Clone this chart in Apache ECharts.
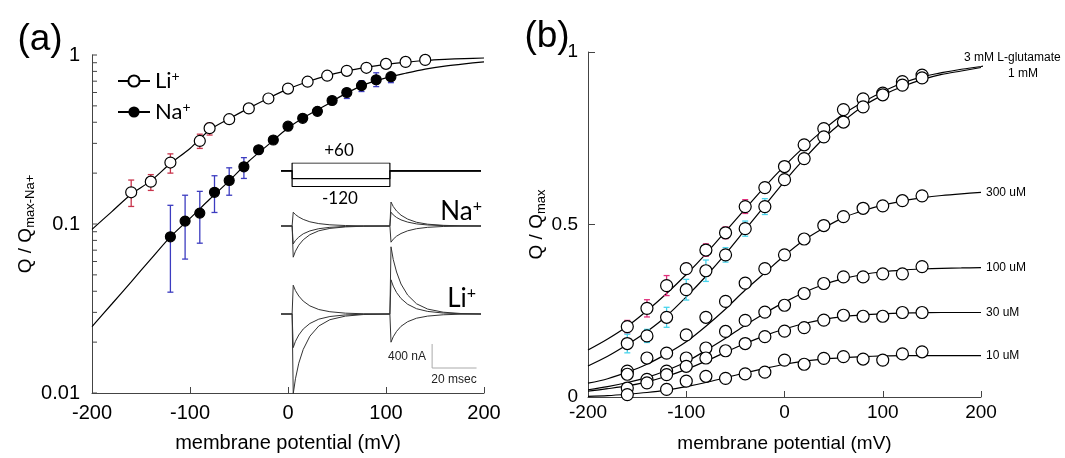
<!DOCTYPE html>
<html>
<head>
<meta charset="utf-8">
<script src="https://cdn.jsdelivr.net/npm/echarts@6/dist/echarts.min.js"></script>
<style>
html, body { margin: 0; padding: 0; background: #fff; }
#chart { width: 1065px; height: 458px; }
</style>
</head>
<body>
<div id="chart"></div>
<script>
// ---- panel (a): Li+ / Na+ charge-voltage, log scale ----
var aLiVoltage = [-160, -140, -120, -90, -80, -60, -40, -20, 0, 20, 40, 60, 80, 100, 120, 140];
var aLiCharge = [0.154, 0.178, 0.231, 0.310, 0.369, 0.417, 0.483, 0.553, 0.633, 0.695, 0.754, 0.806, 0.840, 0.886, 0.910, 0.935];
var aLiErrLow = [0.127, 0.158, 0.200, 0.280, 0.336, 0.405, 0.475, null, null, null, null, null, null, null, null, null];
var aLiErrHigh = [0.182, 0.196, 0.260, 0.340, 0.395, 0.430, 0.490, null, null, null, null, null, null, null, null, null];

var aNaVoltage = [-120, -105, -90, -75, -60, -45, -30, -15, 0, 15, 30, 45, 60, 75, 90, 105];
var aNaCharge = [0.084, 0.104, 0.116, 0.154, 0.181, 0.218, 0.275, 0.314, 0.379, 0.422, 0.464, 0.538, 0.600, 0.659, 0.714, 0.744];
var aNaErrLow = [0.0395, 0.062, 0.077, 0.117, 0.148, 0.186, 0.260, null, null, null, null, 0.510, 0.553, 0.608, 0.650, 0.686];
var aNaErrHigh = [0.129, 0.148, 0.156, 0.193, 0.215, 0.247, 0.286, null, null, null, null, 0.566, 0.633, 0.705, 0.785, 0.774];

var fitVoltage = [-200, -180, -160, -140, -120, -100, -80, -60, -40, -20, 0, 20, 40, 60, 80, 100, 120, 140, 160, 180, 200];
var aLiFit = [0.093, 0.118, 0.150, 0.180, 0.228, 0.280, 0.360, 0.420, 0.485, 0.555, 0.630, 0.695, 0.755, 0.805, 0.845, 0.880, 0.905, 0.928, 0.943, 0.953, 0.960];
var aNaFit = [0.0247, 0.0335, 0.0455, 0.062, 0.084, 0.108, 0.140, 0.180, 0.235, 0.295, 0.370, 0.440, 0.510, 0.597, 0.675, 0.733, 0.780, 0.825, 0.860, 0.887, 0.910];

var aLogMajorTicks = [0.01, 0.1, 1];
var aLogMinorTicks = [0.02, 0.03, 0.04, 0.05, 0.06, 0.07, 0.08, 0.09, 0.2, 0.3, 0.4, 0.5, 0.6, 0.7, 0.8, 0.9];

// inset: voltage protocol and current traces (time in ms, current in nA)
var protocolTime = [-5, 0, 0, 44, 44, 85];
var protocolPlus60 = [0, 0, 60, 60, 0, 0];
var protocolMinus60 = [0, 0, -60, -60, 0, 0];
var protocolMinus120 = [0, 0, -120, -120, 0, 0];

var traceTime = [-5, 0, 0.5, 1.5, 3, 5, 8, 12, 17, 24, 32, 44, 44.5, 45.5, 47, 49, 52, 56, 61, 68, 76, 85];
var naTraceUp = [0, 0, 230, 190, 150, 110, 70, 40, 20, 8, 2, 0, -270, -220, -170, -125, -80, -45, -22, -8, -2, 0];
var naTraceDown = [0, 0, -520, -420, -320, -230, -145, -80, -40, -15, -4, 0, 400, 325, 250, 180, 115, 62, 30, 11, 3, 0];
var naTraceMid = [0, 0, -300, -240, -185, -130, -82, -45, -22, -8, -2, 0, 230, 185, 142, 102, 65, 35, 17, 6, 1, 0];
var liTraceUp = [0, 0, 480, 390, 300, 215, 135, 75, 38, 14, 4, 0, -470, -380, -290, -205, -128, -70, -35, -13, -3, 0];
var liTraceDown = [0, 0, -1330, -1080, -820, -590, -370, -200, -95, -35, -9, 0, 1120, 910, 700, 500, 315, 170, 82, 30, 8, 0];
var liTraceMid = [0, 0, -560, -455, -350, -250, -158, -86, -42, -15, -4, 0, 570, 465, 358, 258, 162, 88, 43, 16, 4, 0];

var scaleBarTime = [63, 63, 83];
var scaleBarCurrent = [-500, -900, -900];

// ---- panel (b): glutamate dependence, linear scale ----
var bVoltage = [-160, -140, -120, -100, -80, -60, -40, -20, 0, 20, 40, 60, 80, 100, 120, 140];
var b3mM = [0.204, 0.257, 0.323, 0.372, 0.426, 0.476, 0.552, 0.607, 0.668, 0.731, 0.778, 0.833, 0.864, 0.881, 0.914, 0.933];
var b3mMErr = [0.018, 0.025, 0.029, 0.015, 0.018, 0.017, 0.020, 0.012, 0.006, 0.006, 0.006, 0.006, 0.006, 0.008, 0.008, 0.005];
var b1mM = [0.155, 0.177, 0.231, 0.311, 0.366, 0.412, 0.488, 0.552, 0.630, 0.691, 0.754, 0.797, 0.841, 0.876, 0.904, 0.925];
var b1mMErr = [0.027, 0.019, 0.029, 0.030, 0.031, 0.021, 0.022, 0.023, 0.010, 0.008, 0.014, 0.006, 0.005, 0.005, 0.005, 0.005];
var b300uM = [0.075, 0.113, 0.127, 0.180, 0.231, 0.277, 0.330, 0.372, 0.412, 0.458, 0.497, 0.523, 0.547, 0.554, 0.569, 0.583];
var b100uM = [0.066, 0.051, 0.075, 0.113, 0.142, 0.190, 0.222, 0.246, 0.266, 0.300, 0.329, 0.348, 0.348, 0.357, 0.357, 0.378];
var b30uM = [0.026, 0.041, 0.065, 0.089, 0.113, 0.134, 0.155, 0.175, 0.191, 0.201, 0.223, 0.237, 0.234, 0.234, 0.245, 0.245];
var b10uM = [0.007, null, 0.022, 0.046, 0.060, 0.054, 0.067, 0.072, 0.107, 0.095, 0.112, 0.117, 0.110, 0.107, 0.125, 0.131];

var fit3mMVoltage = [-200, -180, -160, -140, -120, -100, -80, -60, -40, -20, 0, 20, 40, 60, 80, 100, 120, 140, 160, 180, 200, 222];
var fit3mM = [0.136, 0.168, 0.205, 0.250, 0.300, 0.355, 0.415, 0.480, 0.545, 0.610, 0.670, 0.725, 0.775, 0.820, 0.855, 0.885, 0.910, 0.928, 0.940, 0.950, 0.958, 0.968];
var fit1mM = [0.090, 0.118, 0.152, 0.190, 0.235, 0.290, 0.350, 0.415, 0.485, 0.555, 0.625, 0.690, 0.750, 0.800, 0.843, 0.875, 0.900, 0.920, 0.935, 0.945, 0.955];
var fit300uM = [0.040, 0.053, 0.072, 0.095, 0.125, 0.160, 0.205, 0.255, 0.310, 0.360, 0.410, 0.455, 0.490, 0.520, 0.540, 0.556, 0.568, 0.577, 0.584, 0.589, 0.593];
var fit100uM = [0.021, 0.030, 0.042, 0.057, 0.077, 0.102, 0.135, 0.170, 0.208, 0.243, 0.275, 0.303, 0.326, 0.343, 0.355, 0.363, 0.368, 0.371, 0.373, 0.374, 0.375];
var fit30uM = [0.017, 0.024, 0.032, 0.044, 0.060, 0.080, 0.104, 0.130, 0.155, 0.178, 0.197, 0.213, 0.225, 0.233, 0.238, 0.241, 0.243, 0.244, 0.245, 0.245, 0.245];
var fit10uM = [0.002, 0.004, 0.008, 0.013, 0.020, 0.030, 0.042, 0.056, 0.070, 0.083, 0.095, 0.104, 0.110, 0.114, 0.117, 0.119, 0.120, 0.120, 0.120, 0.120, 0.120];

var FONT = "'Liberation Sans', Arial, sans-serif";
var INSET_FONT = "Lato, 'Open Sans', sans-serif";
var AXIS_COLOR = '#444';

/**
 * Charge-voltage figure
 */
var qvPlot = {

    chart: undefined,

    init: function() {
        qvPlot.chart = echarts.init(document.getElementById('chart'), null, {renderer: 'canvas'});
        qvPlot.chart.setOption(qvPlot.getOption());
    },

    /**
     * zip x and y arrays into [x, y] rows, skipping missing values
     */
    pairs: function(xs, ys) {
        var rows = [];
        for (var i = 0; i < xs.length; i++) {
            if (ys[i] != null) rows.push([xs[i], ys[i]]);
        }
        return rows;
    },

    /**
     * rows [x, low, high] for an error bar series
     */
    errRows: function(xs, lo, hi) {
        var rows = [];
        for (var i = 0; i < xs.length; i++) {
            if (lo[i] != null && hi[i] != null) rows.push([xs[i], lo[i], hi[i]]);
        }
        return rows;
    },

    symErrRows: function(xs, ys, err) {
        var rows = [];
        for (var i = 0; i < xs.length; i++) {
            if (ys[i] != null && err[i] != null) rows.push([xs[i], ys[i] - err[i], ys[i] + err[i]]);
        }
        return rows;
    },

    errorBars: function(rows, color, xIdx, yIdx) {
        return {
            type: 'custom',
            xAxisIndex: xIdx,
            yAxisIndex: yIdx,
            z: 2,
            silent: true,
            encode: {x: 0, y: [1, 2]},
            data: rows,
            renderItem: function(params, api) {
                var lo = api.coord([api.value(0), api.value(1)]);
                var hi = api.coord([api.value(0), api.value(2)]);
                var st = {stroke: color, lineWidth: 1.3};
                return {
                    type: 'group',
                    children: [
                        {type: 'line', shape: {x1: lo[0], y1: lo[1], x2: hi[0], y2: hi[1]}, style: st},
                        {type: 'line', shape: {x1: lo[0] - 3, y1: lo[1], x2: lo[0] + 3, y2: lo[1]}, style: st},
                        {type: 'line', shape: {x1: hi[0] - 3, y1: hi[1], x2: hi[0] + 3, y2: hi[1]}, style: st}
                    ]
                };
            }
        };
    },

    /**
     * inside tick marks of the log axis (decades and 2..9), placed by the log scale itself
     */
    logTickMarks: function() {
        var rows = aLogMajorTicks.concat(aLogMinorTicks).map(function(v) { return [-200, v]; });
        return {
            type: 'custom',
            xAxisIndex: 0,
            yAxisIndex: 0,
            z: 4,
            silent: true,
            clip: false,
            data: rows,
            renderItem: function(params, api) {
                var p = api.coord([api.value(0), api.value(1)]);
                return {
                    type: 'line',
                    shape: {x1: p[0], y1: p[1], x2: p[0] + 5, y2: p[1]},
                    style: {stroke: AXIS_COLOR, lineWidth: 1}
                };
            }
        };
    },

    fitLine: function(name, rows, xIdx, yIdx, extra) {
        var s = {
            name: name,
            type: 'line',
            xAxisIndex: xIdx,
            yAxisIndex: yIdx,
            data: rows,
            smooth: 0.3,
            showSymbol: false,
            symbol: 'none',
            z: 1,
            silent: true,
            lineStyle: {color: '#000', width: 1.2},
            itemStyle: {color: '#000'}
        };
        return echarts.util.merge(s, extra || {}, true);
    },

    markers: function(rows, xIdx, yIdx, filled, size) {
        return {
            type: 'scatter',
            xAxisIndex: xIdx,
            yAxisIndex: yIdx,
            data: rows,
            symbol: 'circle',
            symbolSize: size,
            z: 3,
            silent: true,
            itemStyle: {color: filled ? '#000' : '#fff', borderColor: '#000', borderWidth: 1.2, opacity: 1}
        };
    },

    trace: function(values, xIdx, yIdx) {
        return {
            type: 'line',
            xAxisIndex: xIdx,
            yAxisIndex: yIdx,
            data: qvPlot.pairs(traceTime, values),
            showSymbol: false,
            symbol: 'none',
            silent: true,
            lineStyle: {color: '#333', width: 1}
        };
    },

    valueAxis: function(grid, min, max, interval, fontSize, margin) {
        return {
            gridIndex: grid,
            type: 'value',
            min: min,
            max: max,
            interval: interval,
            axisLine: {show: true, onZero: false, lineStyle: {color: AXIS_COLOR, width: 1}},
            axisTick: {show: true, inside: true, length: 6, lineStyle: {color: AXIS_COLOR}},
            splitLine: {show: false},
            axisLabel: {fontSize: fontSize, color: '#000', margin: margin, fontFamily: FONT}
        };
    },

    hiddenAxis: function(grid, min, max) {
        return {gridIndex: grid, type: 'value', min: min, max: max, show: false};
    },

    getOption: function() {
        var xA = qvPlot.valueAxis(0, -200, 200, 100, 20, 10);
        xA.name = 'membrane potential (mV)';
        xA.nameLocation = 'middle';
        xA.nameGap = 40;
        xA.nameTextStyle = {fontSize: 20, color: '#000', fontFamily: FONT};

        var xB = qvPlot.valueAxis(1, -200, 200, 100, 19, 6);
        xB.name = 'membrane potential (mV)';
        xB.nameLocation = 'middle';
        xB.nameGap = 37;
        xB.nameTextStyle = {fontSize: 19, color: '#000', fontFamily: FONT};

        var subRich = {
            m: {fontSize: 19, fontFamily: FONT, color: '#000'},
            s: {fontSize: 13, fontFamily: FONT, color: '#000', padding: [9, 0, 0, 0]}
        };

        var yA = {
            gridIndex: 0,
            type: 'log',
            logBase: 10,
            min: 0.01,
            max: 1,
            position: 'left',
            axisLine: {show: true, onZero: false, lineStyle: {color: AXIS_COLOR, width: 1}},
            axisTick: {show: false},
            axisLabel: {fontSize: 20, color: '#000', margin: 12, fontFamily: FONT,
                formatter: function(v) { return String(v); }},
            splitLine: {show: false},
            name: '{m|Q / Q}{s|max-Na+}',
            nameLocation: 'middle',
            nameRotate: 90,
            nameGap: 50,
            nameTextStyle: {rich: subRich}
        };

        var yB = qvPlot.valueAxis(1, 0, 1, 0.5, 19, 10);
        yB.axisTick.length = 7;
        yB.axisLabel.formatter = function(v) { return String(v); };
        yB.name = '{m|Q / Q}{s|max}';
        yB.nameLocation = 'middle';
        yB.nameRotate = 90;
        yB.nameGap = 38;
        yB.nameTextStyle = {rich: subRich};

        var endLabel = function(text, offset) {
            return {
                endLabel: {
                    show: true,
                    formatter: text,
                    distance: 5,
                    offset: offset,
                    color: '#000',
                    fontSize: 12,
                    fontFamily: FONT
                },
                clip: false
            };
        };

        var series = [
            // panel (a)
            qvPlot.logTickMarks(),
            qvPlot.fitLine('Li+', qvPlot.pairs(fitVoltage, aLiFit), 0, 0, {symbol: 'emptyCircle'}),
            qvPlot.fitLine('Na+', qvPlot.pairs(fitVoltage, aNaFit), 0, 0, {symbol: 'circle'}),
            qvPlot.errorBars(qvPlot.errRows(aLiVoltage, aLiErrLow, aLiErrHigh), '#c8344c', 0, 0),
            qvPlot.errorBars(qvPlot.errRows(aNaVoltage, aNaErrLow, aNaErrHigh), '#3c3cc0', 0, 0),
            qvPlot.markers(qvPlot.pairs(aLiVoltage, aLiCharge), 0, 0, false, 11),
            qvPlot.markers(qvPlot.pairs(aNaVoltage, aNaCharge), 0, 0, true, 10),

            // panel (b)
            qvPlot.fitLine('3 mM', qvPlot.pairs(fit3mMVoltage, fit3mM), 1, 1, endLabel('3 mM L-glutamate', [-24, -8])),
            qvPlot.fitLine('1 mM', qvPlot.pairs(fitVoltage, fit1mM), 1, 1, endLabel('1 mM', [22, 6])),
            qvPlot.fitLine('300 uM', qvPlot.pairs(fitVoltage, fit300uM), 1, 1, endLabel('300 uM', [0, 0])),
            qvPlot.fitLine('100 uM', qvPlot.pairs(fitVoltage, fit100uM), 1, 1, endLabel('100 uM', [0, 0])),
            qvPlot.fitLine('30 uM', qvPlot.pairs(fitVoltage, fit30uM), 1, 1, endLabel('30 uM', [0, 0])),
            qvPlot.fitLine('10 uM', qvPlot.pairs(fitVoltage, fit10uM), 1, 1, endLabel('10 uM', [0, 0])),
            qvPlot.errorBars(qvPlot.symErrRows(bVoltage, b3mM, b3mMErr), '#e0307c', 1, 1),
            qvPlot.errorBars(qvPlot.symErrRows(bVoltage, b1mM, b1mMErr), '#48d4ec', 1, 1),
            qvPlot.markers(qvPlot.pairs(bVoltage, b3mM), 1, 1, false, 12),
            qvPlot.markers(qvPlot.pairs(bVoltage, b1mM), 1, 1, false, 12),
            qvPlot.markers(qvPlot.pairs(bVoltage, b300uM), 1, 1, false, 12),
            qvPlot.markers(qvPlot.pairs(bVoltage, b100uM), 1, 1, false, 12),
            qvPlot.markers(qvPlot.pairs(bVoltage, b30uM), 1, 1, false, 12),
            qvPlot.markers(qvPlot.pairs(bVoltage, b10uM), 1, 1, false, 12)
        ];

        // inset: protocol
        [protocolPlus60, protocolMinus60, protocolMinus120].forEach(function(levels) {
            series.push({
                type: 'line', xAxisIndex: 2, yAxisIndex: 2, silent: true,
                data: qvPlot.pairs(protocolTime, levels),
                showSymbol: false, symbol: 'none',
                lineStyle: {color: '#000', width: 1.2}
            });
        });
        // inset: traces
        [naTraceUp, naTraceMid, naTraceDown].forEach(function(v) { series.push(qvPlot.trace(v, 3, 3)); });
        [liTraceUp, liTraceMid, liTraceDown].forEach(function(v) { series.push(qvPlot.trace(v, 4, 4)); });
        series.push({
            type: 'line', xAxisIndex: 4, yAxisIndex: 4, silent: true,
            data: qvPlot.pairs(scaleBarTime, scaleBarCurrent),
            showSymbol: false, symbol: 'none',
            lineStyle: {color: '#aaa', width: 1}
        });

        var ionRich = {
            t: {fontSize: 26, fontFamily: INSET_FONT, color: '#000'},
            s: {fontSize: 16, fontFamily: INSET_FONT, color: '#000', padding: [0, 0, 12, 0]}
        };

        return {
            animation: false,
            backgroundColor: '#fff',
            textStyle: {fontFamily: FONT},
            legend: {
                orient: 'vertical',
                left: 112,
                top: 64,
                itemWidth: 32,
                itemHeight: 14,
                itemGap: 8,
                selectedMode: false,
                data: ['Li+', 'Na+'],
                formatter: function(name) {
                    return '{t|' + name.replace('+', '') + '}{s|+}';
                },
                textStyle: {
                    rich: {
                        t: {fontSize: 22, fontFamily: INSET_FONT, color: '#000'},
                        s: {fontSize: 14, fontFamily: INSET_FONT, color: '#000', padding: [0, 0, 10, 0]}
                    }
                }
            },
            grid: [
                {left: 92, top: 55, width: 392, height: 342},
                {left: 588, top: 52, width: 393, height: 347},
                {left: 281, top: 163, width: 200, height: 23.5},
                {left: 281, top: 196, width: 200, height: 66},
                {left: 281, top: 242, width: 200, height: 156}
            ],
            xAxis: [
                xA,
                xB,
                qvPlot.hiddenAxis(2, -5, 85),
                qvPlot.hiddenAxis(3, -5, 85),
                qvPlot.hiddenAxis(4, -5, 85)
            ],
            yAxis: [
                yA,
                yB,
                qvPlot.hiddenAxis(2, -120, 60),
                qvPlot.hiddenAxis(3, -600, 500),
                qvPlot.hiddenAxis(4, -1400, 1200)
            ],
            graphic: [
                {type: 'text', x: 40, y: 40, style: {text: '(a)', fontSize: 37, fontFamily: FONT, fill: '#000', align: 'center', verticalAlign: 'middle'}},
                {type: 'text', x: 547, y: 37, style: {text: '(b)', fontSize: 37, fontFamily: FONT, fill: '#000', align: 'center', verticalAlign: 'middle'}},
                {type: 'text', x: 339, y: 151, style: {text: '+60', fontSize: 17, fontFamily: INSET_FONT, fill: '#000', align: 'center', verticalAlign: 'middle'}},
                {type: 'text', x: 340, y: 199, style: {text: '-120', fontSize: 17, fontFamily: INSET_FONT, fill: '#000', align: 'center', verticalAlign: 'middle'}},
                {type: 'text', x: 482, y: 212, style: {text: '{t|Na}{s|+}', rich: ionRich, align: 'right', verticalAlign: 'middle'}},
                {type: 'text', x: 476, y: 299, style: {text: '{t|Li}{s|+}', rich: ionRich, align: 'right', verticalAlign: 'middle'}},
                {type: 'text', x: 407, y: 357, style: {text: '400 nA', fontSize: 12, fontFamily: FONT, fill: '#222', align: 'center', verticalAlign: 'middle'}},
                {type: 'text', x: 454, y: 380, style: {text: '20 msec', fontSize: 12, fontFamily: FONT, fill: '#222', align: 'center', verticalAlign: 'middle'}}
            ],
            series: series
        };
    }
};

qvPlot.init();
</script>
</body>
</html>
